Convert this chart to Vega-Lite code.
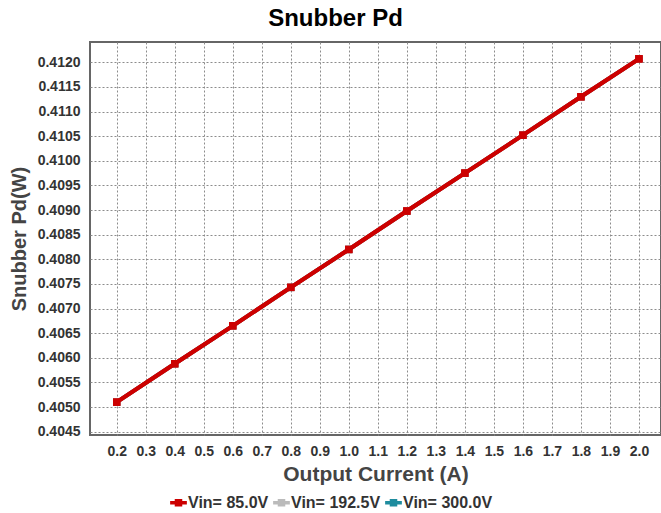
{
  "$schema": "https://vega.github.io/schema/vega-lite/v6.json",
  "width": 571,
  "height": 393,
  "autosize": {"type": "none"},
  "padding": {"left": 90, "top": 42, "right": 0, "bottom": 78},
  "background": "white",
  "config": {
    "view": {"stroke": "#666666", "strokeWidth": 2},
    "font": "Liberation Sans"
  },
  "title": {
    "text": "Snubber Pd",
    "font": "Liberation Sans",
    "fontSize": 24,
    "fontWeight": "bold",
    "color": "#000000",
    "anchor": "middle",
    "frame": "group",
    "dx": -40,
    "offset": 11
  },
  "data": {
    "values": [
      {"series": "Vin= 300.0V", "current": 0.2, "pd": 0.40510},
      {"series": "Vin= 300.0V", "current": 0.4, "pd": 0.40588},
      {"series": "Vin= 300.0V", "current": 0.6, "pd": 0.40665},
      {"series": "Vin= 300.0V", "current": 0.8, "pd": 0.40743},
      {"series": "Vin= 300.0V", "current": 1.0, "pd": 0.40820},
      {"series": "Vin= 300.0V", "current": 1.2, "pd": 0.40898},
      {"series": "Vin= 300.0V", "current": 1.4, "pd": 0.40975},
      {"series": "Vin= 300.0V", "current": 1.6, "pd": 0.41052},
      {"series": "Vin= 300.0V", "current": 1.8, "pd": 0.41130},
      {"series": "Vin= 300.0V", "current": 2.0, "pd": 0.41207},
      {"series": "Vin= 192.5V", "current": 0.2, "pd": 0.40510},
      {"series": "Vin= 192.5V", "current": 0.4, "pd": 0.40588},
      {"series": "Vin= 192.5V", "current": 0.6, "pd": 0.40665},
      {"series": "Vin= 192.5V", "current": 0.8, "pd": 0.40743},
      {"series": "Vin= 192.5V", "current": 1.0, "pd": 0.40820},
      {"series": "Vin= 192.5V", "current": 1.2, "pd": 0.40898},
      {"series": "Vin= 192.5V", "current": 1.4, "pd": 0.40975},
      {"series": "Vin= 192.5V", "current": 1.6, "pd": 0.41052},
      {"series": "Vin= 192.5V", "current": 1.8, "pd": 0.41130},
      {"series": "Vin= 192.5V", "current": 2.0, "pd": 0.41207},
      {"series": "Vin= 85.0V", "current": 0.2, "pd": 0.40510},
      {"series": "Vin= 85.0V", "current": 0.4, "pd": 0.40588},
      {"series": "Vin= 85.0V", "current": 0.6, "pd": 0.40665},
      {"series": "Vin= 85.0V", "current": 0.8, "pd": 0.40743},
      {"series": "Vin= 85.0V", "current": 1.0, "pd": 0.40820},
      {"series": "Vin= 85.0V", "current": 1.2, "pd": 0.40898},
      {"series": "Vin= 85.0V", "current": 1.4, "pd": 0.40975},
      {"series": "Vin= 85.0V", "current": 1.6, "pd": 0.41052},
      {"series": "Vin= 85.0V", "current": 1.8, "pd": 0.41130},
      {"series": "Vin= 85.0V", "current": 2.0, "pd": 0.41207}
    ]
  },
  "encoding": {
    "x": {
      "field": "current",
      "type": "quantitative",
      "scale": {"domain": [0.108, 2.076], "nice": false, "zero": false},
      "axis": {
        "values": [0.2, 0.3, 0.4, 0.5, 0.6, 0.7, 0.8, 0.9, 1.0, 1.1, 1.2, 1.3, 1.4, 1.5, 1.6, 1.7, 1.8, 1.9, 2.0],
        "format": ".1f",
        "title": "Output Current (A)",
        "grid": true,
        "gridColor": "#8c8c8c",
        "gridDash": [2, 2],
        "gridWidth": 1,
        "ticks": false,
        "domain": false,
        "labelFont": "Liberation Sans",
        "labelFontSize": 14,
        "labelFontWeight": "bold",
        "labelColor": "#333333",
        "labelPadding": 9,
        "labelFlush": false,
        "titleFont": "Liberation Sans",
        "titleFontSize": 21,
        "titleFontWeight": "bold",
        "titleColor": "#444444",
        "titlePadding": 5
      }
    },
    "y": {
      "field": "pd",
      "type": "quantitative",
      "scale": {"domain": [0.404433, 0.412412], "nice": false, "zero": false},
      "axis": {
        "values": [0.4045, 0.405, 0.4055, 0.406, 0.4065, 0.407, 0.4075, 0.408, 0.4085, 0.409, 0.4095, 0.41, 0.4105, 0.411, 0.4115, 0.412],
        "format": ".4f",
        "title": "Snubber Pd(W)",
        "grid": true,
        "gridColor": "#8c8c8c",
        "gridDash": [2, 2],
        "gridWidth": 1,
        "ticks": false,
        "domain": false,
        "labelFont": "Liberation Sans",
        "labelFontSize": 14,
        "labelFontWeight": "bold",
        "labelColor": "#333333",
        "labelPadding": 10,
        "labelFlush": false,
        "titleFont": "Liberation Sans",
        "titleFontSize": 20,
        "titleFontWeight": "bold",
        "titleColor": "#444444",
        "titlePadding": 8
      }
    },
    "color": {
      "field": "series",
      "type": "nominal",
      "scale": {
        "domain": ["Vin= 85.0V", "Vin= 192.5V", "Vin= 300.0V"],
        "range": ["#cc0000", "#bbbbbb", "#1e8c9e"]
      },
      "legend": {
        "orient": "none",
        "legendX": 80,
        "legendY": 452,
        "direction": "horizontal",
        "title": null,
        "labelFont": "Liberation Sans",
        "labelFontSize": 16,
        "labelFontWeight": "bold",
        "labelColor": "#333333",
        "labelOffset": 1,
        "columnPadding": 4,
        "symbolType": "M-1,-0.22H1V0.22H-1Z M-0.45,-0.45H0.45V0.45H-0.45Z",
        "symbolSize": 280,
        "symbolStrokeWidth": 0,
        "symbolOpacity": 1
      }
    }
  },
  "layer": [
    {"mark": {"type": "line", "strokeWidth": 4}},
    {"mark": {"type": "point", "shape": "square", "filled": true, "size": 55, "opacity": 1}},
    {
      "transform": [{"filter": "datum.series == 'Vin= 85.0V'"}],
      "mark": {"type": "line", "strokeWidth": 4}
    },
    {
      "transform": [{"filter": "datum.series == 'Vin= 85.0V'"}],
      "mark": {"type": "point", "shape": "square", "filled": true, "size": 55, "opacity": 1}
    }
  ]
}
